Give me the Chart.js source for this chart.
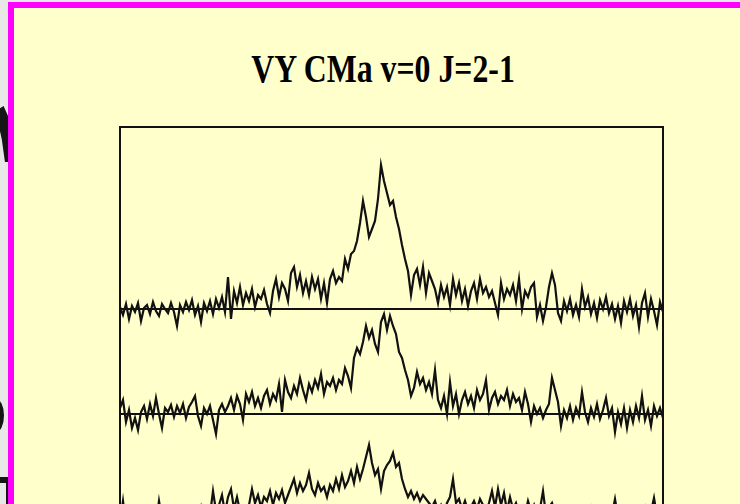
<!DOCTYPE html>
<html>
<head>
<meta charset="utf-8">
<script src="https://cdn.jsdelivr.net/npm/chart.js@4.4.1/dist/chart.umd.min.js"></script>
<style>
  html, body { margin: 0; padding: 0; width: 740px; height: 504px; overflow: hidden; background: #e8e8e6; }
  #slide { position: absolute; left: 8px; top: 2px; width: 760px; height: 540px; background: #ffffcc;
           border-left: 6px solid #ff00ff; border-top: 6px solid #ff00ff; }
  #title { position: absolute; left: 0; width: 766px; top: 44px; text-align: center;
           font: bold 41px "Liberation Serif", "Times New Roman", serif; color: #000;
           transform: scaleX(0.775); transform-origin: 383px 0; white-space: nowrap; }
  #plot { position: absolute; left: 0; top: 0; }
  .edge { position: absolute; background: #151515; }
</style>
</head>
<body>
<!-- dark shapes peeking out from behind the slide on the left -->
<div class="edge" style="left:0; top:106px; width:9px; height:56px;
     clip-path: polygon(0 4%, 40% 0, 100% 22%, 100% 100%, 55% 100%, 20% 60%, 0 45%);"></div>
<div class="edge" style="left:-12px; top:399px; width:16px; height:33px; border-radius:0 60% 60% 0;"></div>
<div class="edge" style="left:0; top:477px; width:9px; height:6px;"></div>
<div class="edge" style="left:6px; top:477px; width:3px; height:30px;"></div>
<div id="slide"></div>
<div id="title">VY CMa v=0 J=2-1</div>
<canvas id="plot" width="740" height="700"></canvas>
<script>
// Antenna temperature of the CO v=0 J=2-1 line, three scans, per spectral channel
const spectrumTop = [
  2, -6, 5, -10, 3, -3, 6, -12, 1, 4, -5, 7, -2, -7, 5, 0, -4, 6, -3,
  -17, 4, -3, 7, -1, 9, -6, 3, -13, 6, -2, 8, -5, 10, 1, 12, -3,
  32, -10, 18, 6, 22, 4, 16, 8, 20, 2, 14, 10, 19, 5, -4,
  18, 30, 12, 26, 20, 8, 36, 42, 22, 34, 16, 28, 14, 32, 20, 30, 10, 26, 6, 30,
  38, 26, 32, 28, 50, 40, 55, 58,
  68, 86, 108, 92, 72, 80, 88, 110,
  144, 128, 116, 104, 108, 92, 80, 64, 50, 38, 14,
  34, 40, 24, 42, 16, 36, 28,
  20, 6, 24, 12, 22, 4, 30, 14, 26, 8, 20, 3, 18, 26, 10, 30, 16, 22, 12, 18, 6,
  -6,
  26, 10, 20, 14, 24, 8, 30, 0, 18, 12, 22, 26,
  -8, 4, -12, 2,
  22, 36, 24,
  -4, -12, 8, -2, 10, -6, 4, -8, 20, 2, 12, -5, 6, -9, 9, 0, 12, -4, 5, -10,
  3, -14, 8, -3, 10, -7, 4, -18, 6, 16, -8, 10, -2, -16, 7, -3
];

const spectrumMiddle = [
  6, 14, -8, 4, -14, -4, -16, 2, 8, -5, 10, -2,
  16, 0, -14, 6, 2, 9, -3, 8, 1, 10, -4, 7, 12,
  18, -2, -12, 6, 0, 8, -6, -20, 4, 10, 2,
  8, 16, 4, 18, 10, -6, 20, 12, 22, 8, 16, 6, 18, 24, 10, 20, 14,
  30, 2, 34, 22, 16, 28, 20, 36, 24, 14, 30,
  22, 34, 26, 40, 20, 32, 28, 36, 24, 34, 30,
  46, 38, 26,
  56, 66, 60, 72,
  88, 76, 84, 70,
  62, 92, 100, 84, 98, 88,
  80, 62, 56,
  44, 34,
  18, 26, 42, 30, 36, 24, 32, 20, 44,
  14, 6, 18, 0,
  32, 8, 20, 0, 14, 22, 10, 18, 6, 24, 14, 20, 34, 4, 16, 22, 10, 18, 14, 24, 8, 20, 12, 16, 4, 22, 10,
  -8, 8, 0, 6, -4, 4, 10,
  36, 24,
  12, -12, 4, -4, 8, -6, 6, -2, 22, 2, -8, 6, -3, 10, -5, 4, 16, -2, 6, -18,
  2, -10, 6, -14, 4, -8, 8, -4, 18, -6, 4, -12, 8, -2, 6, -4
];

const spectrumBottom = [
  -4, 18, -6, 5, -10, 2, 8, -3, 6, -8, 4, 10, -5, 18, 0, -7, 6, -2, 9, -6,
  3, 11, -4, 7, -9, 5, 1, 12, -3, 8, 4,
  28, 8, 14, 24, 6, 22, 30, 10, 22,
  8, 12, 2, 14,
  30, 16, 24, 12, 22, 18, 28, 14, 26, 20, 29, 16, 24,
  32, 40, 26, 36, 28, 34, 46, 30, 24, 36, 28, 32, 22, 34, 28, 40, 30, 44, 32, 38,
  48, 36, 52, 40, 50,
  62, 74,
  56, 44, 50, 30, 48, 54,
  58, 66, 52,
  56, 40,
  30, 22, 28, 20, 26, 18, 24, 20, 16,
  12, 18, 8, 14, 6, 16,
  22, 40, 16, 20, 10, 18, 8,
  12, 18, 10, 20, 14, 6, 16, 28, 12, 30, 14, 26, 8, 22, 10, 16, 6, 12, 4, 18, 8, 14, 2, 10, 28,
  4, 12, 16, 6, -4, 8, -2, 6, -8, 4, 10, -3, 7, -6, 5, 12, -2, 6, -10, 3,
  9, -5, 4, 20, 2, 10, -6, 8, -2, 5, -9, 6, 0, 11, -4, 7, 21, 3, -6, 5
];

const spectra = [spectrumTop, spectrumMiddle, spectrumBottom];
// each scan is stacked above its own zero line
const stackOffsets = [331, 226, 121];

const lineColor = '#111111';
const lastChannel = spectrumTop.length - 1;

const datasets = [];
spectra.forEach((values, k) => {
  datasets.push({
    label: 'baseline ' + (k + 1),
    data: [{ x: 0, y: stackOffsets[k] }, { x: lastChannel, y: stackOffsets[k] }],
    borderColor: '#111111',
    borderWidth: 2
  });
  datasets.push({
    label: 'scan ' + (k + 1),
    data: values.map((v, i) => ({ x: i, y: stackOffsets[k] + v })),
    borderColor: lineColor,
    borderWidth: 2.2,
    borderJoinStyle: 'miter'
  });
});

// frame around the plotting area
const framePlugin = {
  id: 'frame',
  afterDraw(chart) {
    const { ctx, chartArea: a } = chart;
    ctx.save();
    ctx.strokeStyle = '#111111';
    ctx.lineWidth = 2;
    ctx.strokeRect(a.left, a.top, a.right - a.left, a.bottom - a.top);
    ctx.restore();
  }
};

new Chart(document.getElementById('plot'), {
  type: 'line',
  data: { datasets },
  options: {
    responsive: false,
    animation: false,
    layout: { padding: { left: 120, top: 127, right: 77, bottom: 60 } },
    elements: { point: { radius: 0 }, line: { tension: 0 } },
    plugins: { legend: { display: false }, tooltip: { enabled: false }, title: { display: false } },
    scales: {
      x: { type: 'linear', display: false, min: 0, max: lastChannel },
      y: { type: 'linear', display: false, min: 0, max: 513 }
    }
  },
  plugins: [framePlugin]
});
</script>
</body>
</html>
